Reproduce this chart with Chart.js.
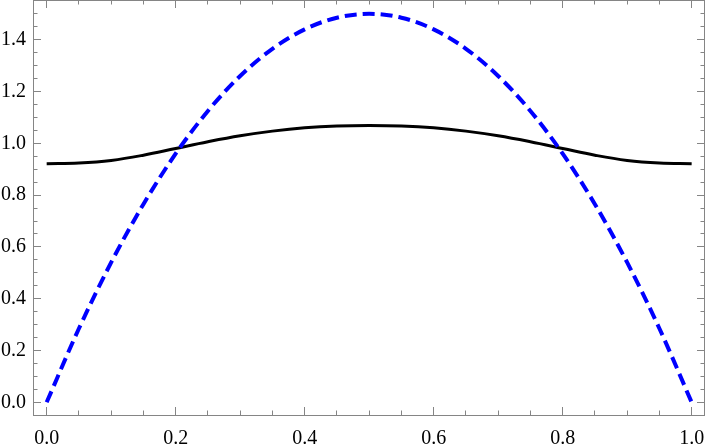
<!DOCTYPE html>
<html>
<head>
<meta charset="utf-8">
<script src="https://cdn.jsdelivr.net/npm/chart.js@4.4.1/dist/chart.umd.min.js"></script>
<style>
  html, body { margin: 0; padding: 0; background: #fff; }
  canvas { display: block; }
</style>
</head>
<body>
<canvas id="grafico" width="706" height="447"></canvas>
<script>
// valores (passo de 0.05 em x)
const xValores = [0, 0.05, 0.1, 0.15, 0.2, 0.25, 0.3, 0.35, 0.4, 0.45, 0.5,
                  0.55, 0.6, 0.65, 0.7, 0.75, 0.8, 0.85, 0.9, 0.95, 1];
const curvaAzul = [0, 0.285, 0.54, 0.765, 0.96, 1.125, 1.26, 1.365, 1.44, 1.485, 1.5,
                   1.485, 1.44, 1.365, 1.26, 1.125, 0.96, 0.765, 0.54, 0.285, 0];
const curvaPreta = [0.921, 0.924, 0.934, 0.954, 0.980, 1.006, 1.029, 1.047, 1.060, 1.067, 1.069,
                    1.067, 1.060, 1.047, 1.029, 1.006, 0.980, 0.954, 0.934, 0.924, 0.921];

// marcas principais dos eixos
const ticksX = [0, 0.2, 0.4, 0.6, 0.8, 1.0];
const ticksY = [0, 0.2, 0.4, 0.6, 0.8, 1.0, 1.2, 1.4];

const corMoldura = '#858585';
const fonteTicks = { family: "'Liberation Serif', 'DejaVu Serif', serif", size: 20 };

// Monta os pontos {x, y} a partir dos arrays
function montaPontos(valores) {
    return xValores.map((x, i) => ({ x: x, y: valores[i] }));
}

// Zera o padding extra que o Chart.js reserva para os rotulos das pontas
function ajustaEixo(scale, lado, tamanho) {
    scale[lado] = tamanho;
    scale.paddingTop = 0;
    scale.paddingBottom = 0;
    scale.paddingLeft = 0;
    scale.paddingRight = 0;
}

// Desenha a moldura e os ticks internos (principais e secundarios) nos 4 lados
const molduraTicks = {
    id: 'molduraTicks',
    afterDatasetsDraw(chart) {
        const { ctx, chartArea: a, scales } = chart;
        ctx.save();
        ctx.strokeStyle = corMoldura;
        ctx.lineWidth = 1;
        ctx.beginPath();
        ctx.moveTo(a.left + 0.5, a.top);
        ctx.lineTo(a.left + 0.5, a.bottom + 1);
        ctx.moveTo(a.right - 0.5, a.top);
        ctx.lineTo(a.right - 0.5, a.bottom + 1);
        ctx.moveTo(a.left, a.top + 0.5);
        ctx.lineTo(a.right, a.top + 0.5);
        ctx.moveTo(a.left, a.bottom + 0.5);
        ctx.lineTo(a.right, a.bottom + 0.5);

        for (let i = 0; i <= 20; i++) {
            const px = Math.floor(scales.x.getPixelForValue(i / 20)) + 0.5;
            const tam = i % 4 === 0 ? 8 : 4.5;
            ctx.moveTo(px, a.bottom);
            ctx.lineTo(px, a.bottom - tam);
            ctx.moveTo(px, a.top);
            ctx.lineTo(px, a.top + tam);
        }
        for (let i = 0; i <= 30; i++) {
            const py = Math.floor(scales.y.getPixelForValue(i / 20)) + 0.5;
            const tam = i % 4 === 0 ? 8 : 4.5;
            ctx.moveTo(a.left, py);
            ctx.lineTo(a.left + tam, py);
            ctx.moveTo(a.right, py);
            ctx.lineTo(a.right - tam, py);
        }
        ctx.stroke();
        ctx.restore();
    }
};

const config = {
    type: 'line',
    data: {
        datasets: [
            {
                label: 'azul',
                data: montaPontos(curvaAzul),
                borderColor: '#0000ff',
                borderWidth: 4,
                borderDash: [12, 6],
                borderCapStyle: 'butt',
                cubicInterpolationMode: 'monotone',
                pointRadius: 0,
                fill: false
            },
            {
                label: 'preta',
                data: montaPontos(curvaPreta),
                borderColor: '#000000',
                borderWidth: 3,
                tension: 0.4,
                pointRadius: 0,
                fill: false
            }
        ]
    },
    options: {
        responsive: false,
        animation: false,
        devicePixelRatio: 1,
        layout: { padding: { top: 0, right: 1, bottom: 0, left: 0 } },
        plugins: {
            legend: { display: false },
            tooltip: { enabled: false }
        },
        scales: {
            x: {
                type: 'linear',
                min: -0.0212,
                max: 1.0207,
                afterBuildTicks: scale => { scale.ticks = ticksX.map(v => ({ value: v })); },
                afterFit: scale => ajustaEixo(scale, 'height', 32),
                grid: { display: false, drawTicks: false },
                border: { display: false },
                ticks: {
                    padding: 12,
                    color: '#000',
                    font: fonteTicks,
                    maxRotation: 0,
                    autoSkip: false,
                    callback: v => v.toFixed(1)
                }
            },
            y: {
                type: 'linear',
                min: -0.049,
                max: 1.5533,
                afterBuildTicks: scale => { scale.ticks = ticksY.map(v => ({ value: v })); },
                afterFit: scale => ajustaEixo(scale, 'width', 33),
                grid: { display: false, drawTicks: false },
                border: { display: false },
                ticks: {
                    padding: 7,
                    color: '#000',
                    font: fonteTicks,
                    autoSkip: false,
                    callback: v => v.toFixed(1)
                }
            }
        }
    },
    plugins: [molduraTicks]
};

const objGrafico = new Chart(document.getElementById('grafico'), config);
</script>
</body>
</html>
